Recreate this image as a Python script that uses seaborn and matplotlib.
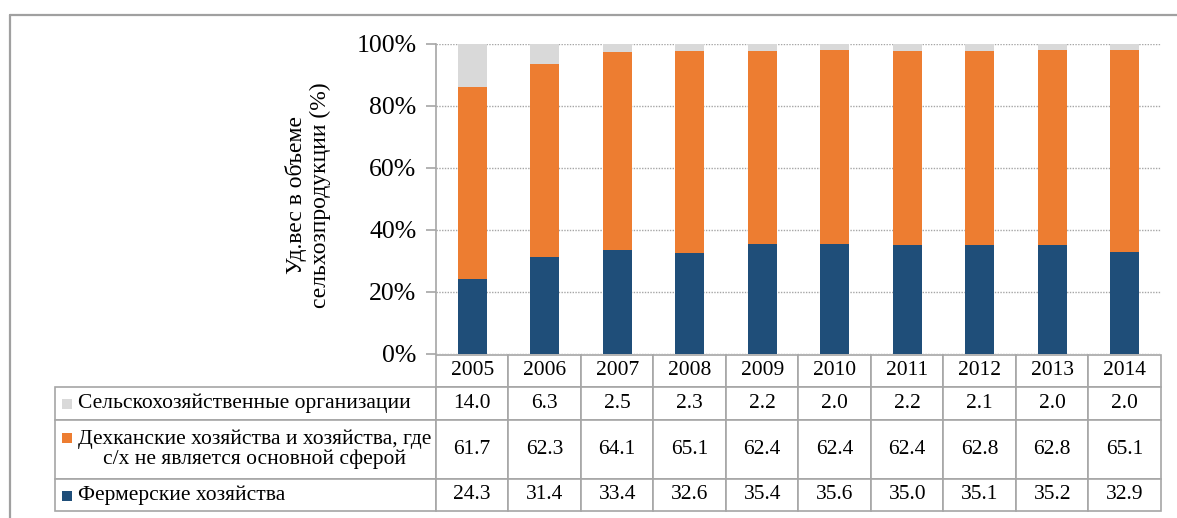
import numpy as np
import pandas as pd
import matplotlib
matplotlib.use("Agg")
import matplotlib.pyplot as plt
import seaborn as sns
from matplotlib.lines import Line2D
from matplotlib.patches import Rectangle

# Share of agricultural output by producer type, %
years = ["2005", "2006", "2007", "2008", "2009", "2010", "2011", "2012", "2013", "2014"]
agri_orgs = [14.0, 6.3, 2.5, 2.3, 2.2, 2.0, 2.2, 2.1, 2.0, 2.0]
dehkan = [61.7, 62.3, 64.1, 65.1, 62.4, 62.4, 62.4, 62.8, 62.8, 65.1]
farms = [24.3, 31.4, 33.4, 32.6, 35.4, 35.6, 35.0, 35.1, 35.2, 32.9]
series_labels = [
    "Сельскохозяйственные организации",
    "Дехканские хозяйства и хозяйства, где\nс/х не является основной сферой",
    "Фермерские хозяйства",
]
colors = ["#D9D9D9", "#ED7D31", "#1F4E79"]
grid_color = "#A6A6A6"

sns.set_theme(style="white")
plt.rcParams["font.family"] = ["Liberation Serif", "DejaVu Serif"]

df = pd.DataFrame({"year": years, "orgs": agri_orgs, "dehkan": dehkan, "farms": farms})
total = df[["orgs", "dehkan", "farms"]].sum(axis=1)
# cumulative tops for a 100% stacked column chart
df["farms_top"] = df["farms"] / total * 100
df["dehkan_top"] = (df["farms"] + df["dehkan"]) / total * 100
df["orgs_top"] = (df["farms"] + df["dehkan"] + df["orgs"]) / total * 100

W, H = 1177, 518
AX_L, AX_T, AX_W, AX_H = 436, 44, 725, 310
fig = plt.figure(figsize=(W / 100, H / 100), dpi=100)
fig.patch.set_facecolor("white")
ax = fig.add_axes([AX_L / W, 1 - (AX_T + AX_H) / H, AX_W / W, AX_H / H])

for col, c in zip(["orgs_top", "dehkan_top", "farms_top"], colors):
    sns.barplot(data=df, x="year", y=col, order=years, color=c, saturation=1,
                width=0.4, errorbar=None, linewidth=0, ax=ax)

ax.set_xlim(-0.5, len(years) - 0.5)
ax.set_ylim(0, 100)
ax.set_yticks(np.arange(0, 101, 20))
ax.set_yticklabels([f"{t}%" for t in range(0, 101, 20)])
ax.set_xticks([])
ax.set_xlabel("")
ax.set_ylabel("")
ax.yaxis.grid(True, linestyle=(0, (1, 1)), color=grid_color, linewidth=1.0)
ax.set_axisbelow(True)
for s in ["top", "right", "bottom"]:
    ax.spines[s].set_visible(False)
ax.spines["left"].set_color(grid_color)
ax.spines["left"].set_linewidth(1.2)
ax.tick_params(axis="y", left=True, length=7, width=1.2, color=grid_color,
               labelsize=18.5, pad=7, labelcolor="black")

fig.text(308 / W, 1 - 195 / H, "Уд.вес в объеме\nсельхозпродукции (%)",
         rotation=90, ha="center", va="center", multialignment="center",
         fontsize=17, color="black", linespacing=1.15)

# Data table under the columns; cell sizes in axes units
cell_text = [[f"{v:.1f}" for v in agri_orgs],
             [f"{v:.1f}" for v in dehkan],
             [f"{v:.1f}" for v in farms]]
row_h_px = {0: 32, 1: 33, 2: 59, 3: 32}
label_w_px = AX_L - 55
tbl_h = sum(row_h_px.values()) / AX_H
tbl = ax.table(cellText=cell_text, rowLabels=series_labels, colLabels=years,
               cellLoc="center", rowLoc="left",
               bbox=[0, -1 / AX_H - tbl_h, 1, tbl_h])
tbl._autoColumns.clear()  # keep the fixed label-column width
tbl.auto_set_font_size(False)
tbl.set_fontsize(15.5)
for (r, c), cell in tbl.get_celld().items():
    cell.set_height(row_h_px[r] / AX_H)
    cell.set_width(label_w_px / AX_W if c == -1 else 1 / len(years))
    cell.set_edgecolor(grid_color)
    cell.set_linewidth(1.2)
    cell.get_text().set_color("black")
    if c == -1:
        cell.PAD = 23 / label_w_px
        cell.get_text().set_multialignment("center")
        cell.get_text().set_linespacing(1.05)

# colour keys in the row-label cells
for yc, c in zip([404, 438, 496], colors):
    fig.add_artist(Rectangle((62 / W, 1 - (yc + 5) / H), 10 / W, 10 / H,
                             transform=fig.transFigure, color=c, lw=0))

# outer frame
fig.add_artist(Line2D([10 / W, 10 / W], [0, 1 - 15 / H], transform=fig.transFigure,
                      color="#A0A0A0", lw=1.6))
fig.add_artist(Line2D([10 / W, 1], [1 - 15 / H, 1 - 15 / H], transform=fig.transFigure,
                      color="#A0A0A0", lw=1.6))

fig.savefig("out.png", dpi=100, facecolor="white")
